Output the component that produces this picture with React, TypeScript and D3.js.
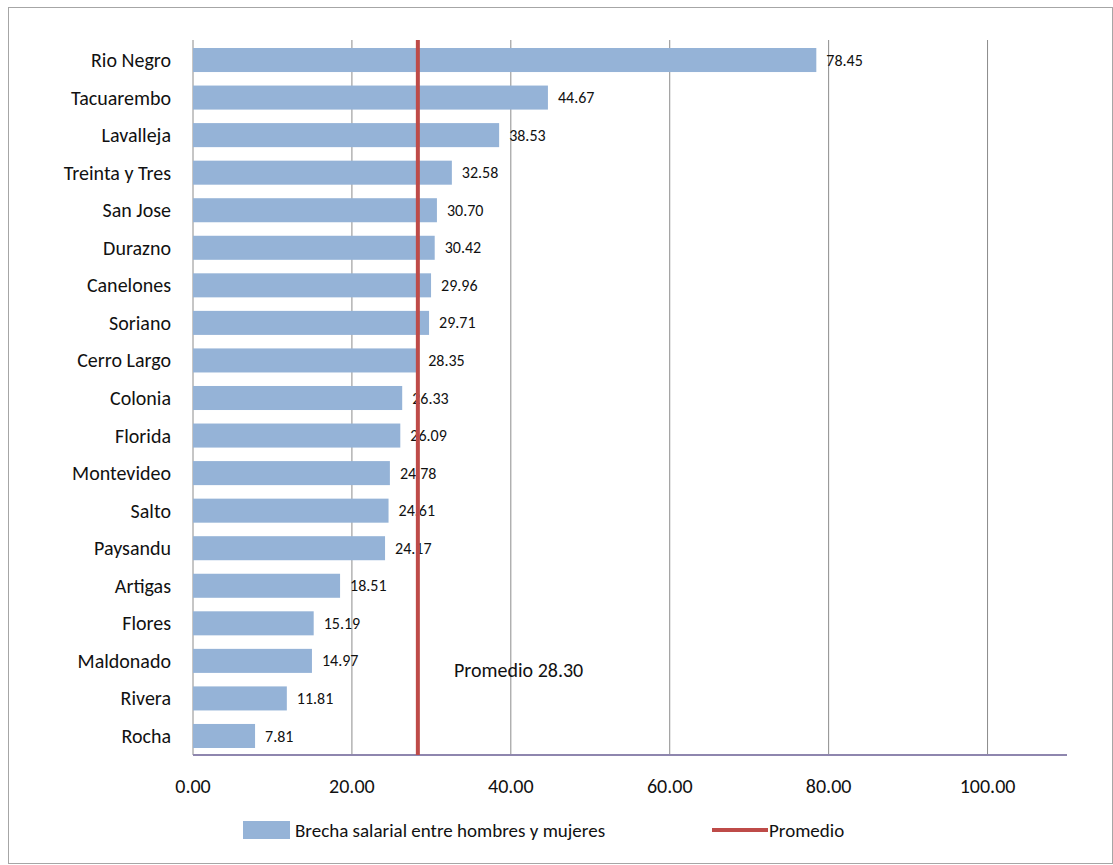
import React from 'react';
import * as d3 from 'd3';

const departments = ['Rio Negro', 'Tacuarembo', 'Lavalleja', 'Treinta y Tres', 'San Jose', 'Durazno', 'Canelones', 'Soriano', 'Cerro Largo', 'Colonia', 'Florida', 'Montevideo', 'Salto', 'Paysandu', 'Artigas', 'Flores', 'Maldonado', 'Rivera', 'Rocha'];
const brecha = [78.45, 44.67, 38.53, 32.58, 30.7, 30.42, 29.96, 29.71, 28.35, 26.33, 26.09, 24.78, 24.61, 24.17, 18.51, 15.19, 14.97, 11.81, 7.81];
const promedio = 28.3;
const ticks = [0, 20, 40, 60, 80, 100];

const font = "Carlito, 'Liberation Sans Narrow', 'Open Sans', sans-serif";

export default function App() {
  const width = 1113;
  const height = 865;
  const x = d3.scaleLinear().domain([0, 110]).range([193, 1067]);
  const y = d3.scaleBand<string>().domain(departments).range([48, 748]).paddingInner(0.36).paddingOuter(0);
  const plotTop = 40;
  const plotBottom = 755;

  return (
    <svg width={width} height={height} style={{ position: 'absolute', left: 0, top: 0, background: '#fff' }} fontFamily={font}>
      <rect x={8.5} y={7.5} width={1104} height={856} fill="#fff" stroke="#a6a6a6" />
      {ticks.filter(t => t > 0).map(t => (
        <line key={t} x1={x(t)} x2={x(t)} y1={plotTop} y2={plotBottom} stroke="#8c8c8c" strokeWidth={1} />
      ))}
      <line x1={x(0)} x2={x(0)} y1={plotTop} y2={plotBottom} stroke="#8c8c8c" />
      {departments.map((d, i) => (
        <g key={d}>
          <rect x={x(0)} y={y(d)} width={x(brecha[i]) - x(0)} height={y.bandwidth()} fill="#95b3d7" />
          <text x={x(brecha[i]) + 10} y={y(d)! + y.bandwidth() / 2} dy="0.35em" fontSize={16} fill="#111">
            {brecha[i].toFixed(2)}
          </text>
          <text x={x(0) - 22} y={y(d)! + y.bandwidth() / 2} dy="0.35em" fontSize={20} textAnchor="end" fill="#111">
            {d}
          </text>
        </g>
      ))}
      <line x1={x(0)} x2={x(110)} y1={plotBottom} y2={plotBottom} stroke="#8e86ae" strokeWidth={2} />
      <line x1={x(promedio)} x2={x(promedio)} y1={plotTop} y2={plotBottom} stroke="#be4b48" strokeWidth={4} />
      <text x={454} y={670} dy="0.35em" fontSize={20} fill="#111">Promedio {promedio.toFixed(2)}</text>
      {ticks.map(t => (
        <text key={t} x={x(t)} y={786} dy="0.35em" fontSize={20} textAnchor="middle" fill="#111">
          {t.toFixed(2)}
        </text>
      ))}
      <rect x={243} y={821} width={47} height={18} fill="#95b3d7" />
      <text x={295} y={830} dy="0.35em" fontSize={19} fill="#111">Brecha salarial entre hombres y mujeres</text>
      <line x1={712} x2={768} y1={830} y2={830} stroke="#be4b48" strokeWidth={4} />
      <text x={769} y={830} dy="0.35em" fontSize={19} fill="#111">Promedio</text>
    </svg>
  );
}
